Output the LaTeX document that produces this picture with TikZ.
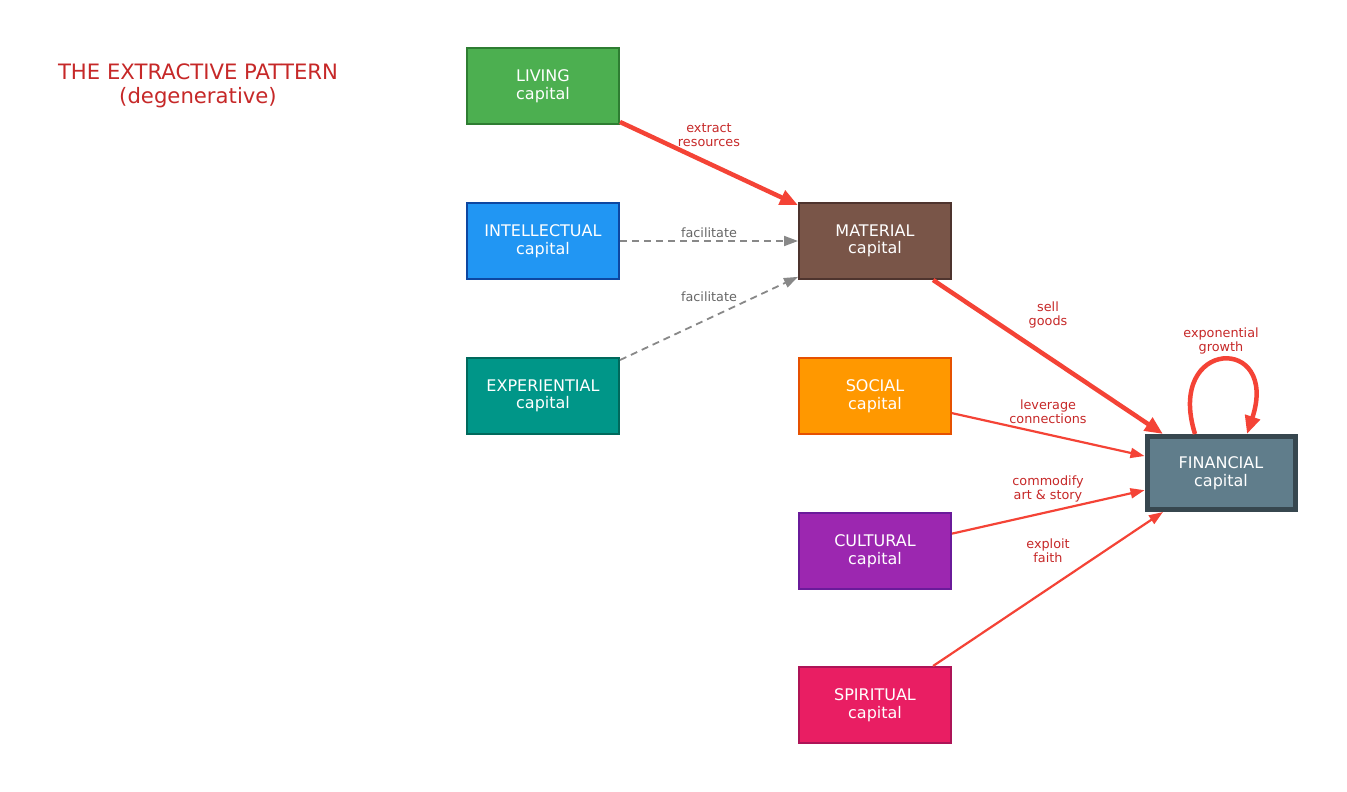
\documentclass[tikz,border=0pt]{standalone}
\usepackage{fontspec}
\setmainfont{DejaVu Sans}
\usetikzlibrary{arrows.meta}
\definecolor{cLiving}{HTML}{4CAF50}\definecolor{bLiving}{HTML}{2E7D32}
\definecolor{cIntel}{HTML}{2196F3}\definecolor{bIntel}{HTML}{0D47A1}
\definecolor{cExp}{HTML}{009688}\definecolor{bExp}{HTML}{00695C}
\definecolor{cMat}{HTML}{795548}\definecolor{bMat}{HTML}{4E342E}
\definecolor{cSoc}{HTML}{FF9800}\definecolor{bSoc}{HTML}{E65100}
\definecolor{cCul}{HTML}{9C27B0}\definecolor{bCul}{HTML}{6A1B9A}
\definecolor{cSpi}{HTML}{E91E63}\definecolor{bSpi}{HTML}{AD1457}
\definecolor{cFin}{HTML}{607D8B}\definecolor{bFin}{HTML}{37474F}
\definecolor{eRed}{HTML}{F44336}\definecolor{lRed}{HTML}{C62828}
\definecolor{eGray}{HTML}{888888}\definecolor{lGray}{HTML}{666666}
\begin{document}
\begin{tikzpicture}[x=1pt,y=-1pt,
  capbox/.style={draw, line width=2pt, minimum width=152pt, minimum height=76pt, inner sep=0pt,
    text=white, align=center, font=\fontsize{16}{17.5}\selectfont},
  redlbl/.style={text=lRed, align=center, font=\fontsize{12.8}{14}\selectfont, inner sep=0pt},
  graylbl/.style={text=lGray, align=center, font=\fontsize{12.8}{14}\selectfont, inner sep=0pt},
  heavy/.style={draw=eRed, line width=4.5pt, -{Triangle[length=18pt,width=15pt]}},
  light/.style={draw=eRed, line width=2.2pt, -{Triangle[length=14pt,width=10pt]}},
  facil/.style={draw=eGray, line width=1.8pt, dash pattern=on 7pt off 5pt, -{Triangle[length=14pt,width=10pt]}}
]
\path[use as bounding box] (0,0) rectangle (1347,792);
\node[text=lRed, align=center, font=\fontsize{21.2}{24}\selectfont] (title) at (198,86) {THE EXTRACTIVE PATTERN\\(degenerative)};

\node[capbox, fill=cLiving, draw=bLiving] (liv) at (543,86) {LIVING\\capital};
\node[capbox, fill=cIntel, draw=bIntel] (int) at (543,241) {INTELLECTUAL\\capital};
\node[capbox, fill=cExp, draw=bExp] (exp) at (543,396) {EXPERIENTIAL\\capital};
\node[capbox, fill=cMat, draw=bMat] (mat) at (875,241) {MATERIAL\\capital};
\node[capbox, fill=cSoc, draw=bSoc] (soc) at (875,396) {SOCIAL\\capital};
\node[capbox, fill=cCul, draw=bCul] (cul) at (875,551) {CULTURAL\\capital};
\node[capbox, fill=cSpi, draw=bSpi] (spi) at (875,705) {SPIRITUAL\\capital};
\node[capbox, fill=cFin, draw=bFin, line width=5pt, minimum width=148pt, minimum height=73pt] (fin) at (1221,473) {FINANCIAL\\capital};

\draw[heavy] (liv) -- (mat);
\draw[facil] (int) -- (mat);
\draw[facil] (exp) -- (mat);
\draw[heavy] (mat) -- (fin);
\draw[light] (soc) -- (fin);
\draw[light] (cul) -- (fin);
\draw[light] (spi) -- (fin);
\draw[heavy] ([xshift=-26pt]fin.north) .. controls +(-30,-96) and +(33,-100) .. ([xshift=26pt]fin.north);

\node[redlbl] (l1) at (709,135) {extract\\resources};
\node[graylbl] (l2) at (709,233) {facilitate};
\node[graylbl] (l3) at (709,297) {facilitate};
\node[redlbl] (l4) at (1048,315) {sell\\goods};
\node[redlbl] (l5) at (1048,412) {leverage\\connections};
\node[redlbl] (l6) at (1048,489) {commodify\\art \& story};
\node[redlbl] (l7) at (1048,551) {exploit\\faith};
\node[redlbl] (l8) at (1221,341) {exponential\\growth};
\end{tikzpicture}
\end{document}
